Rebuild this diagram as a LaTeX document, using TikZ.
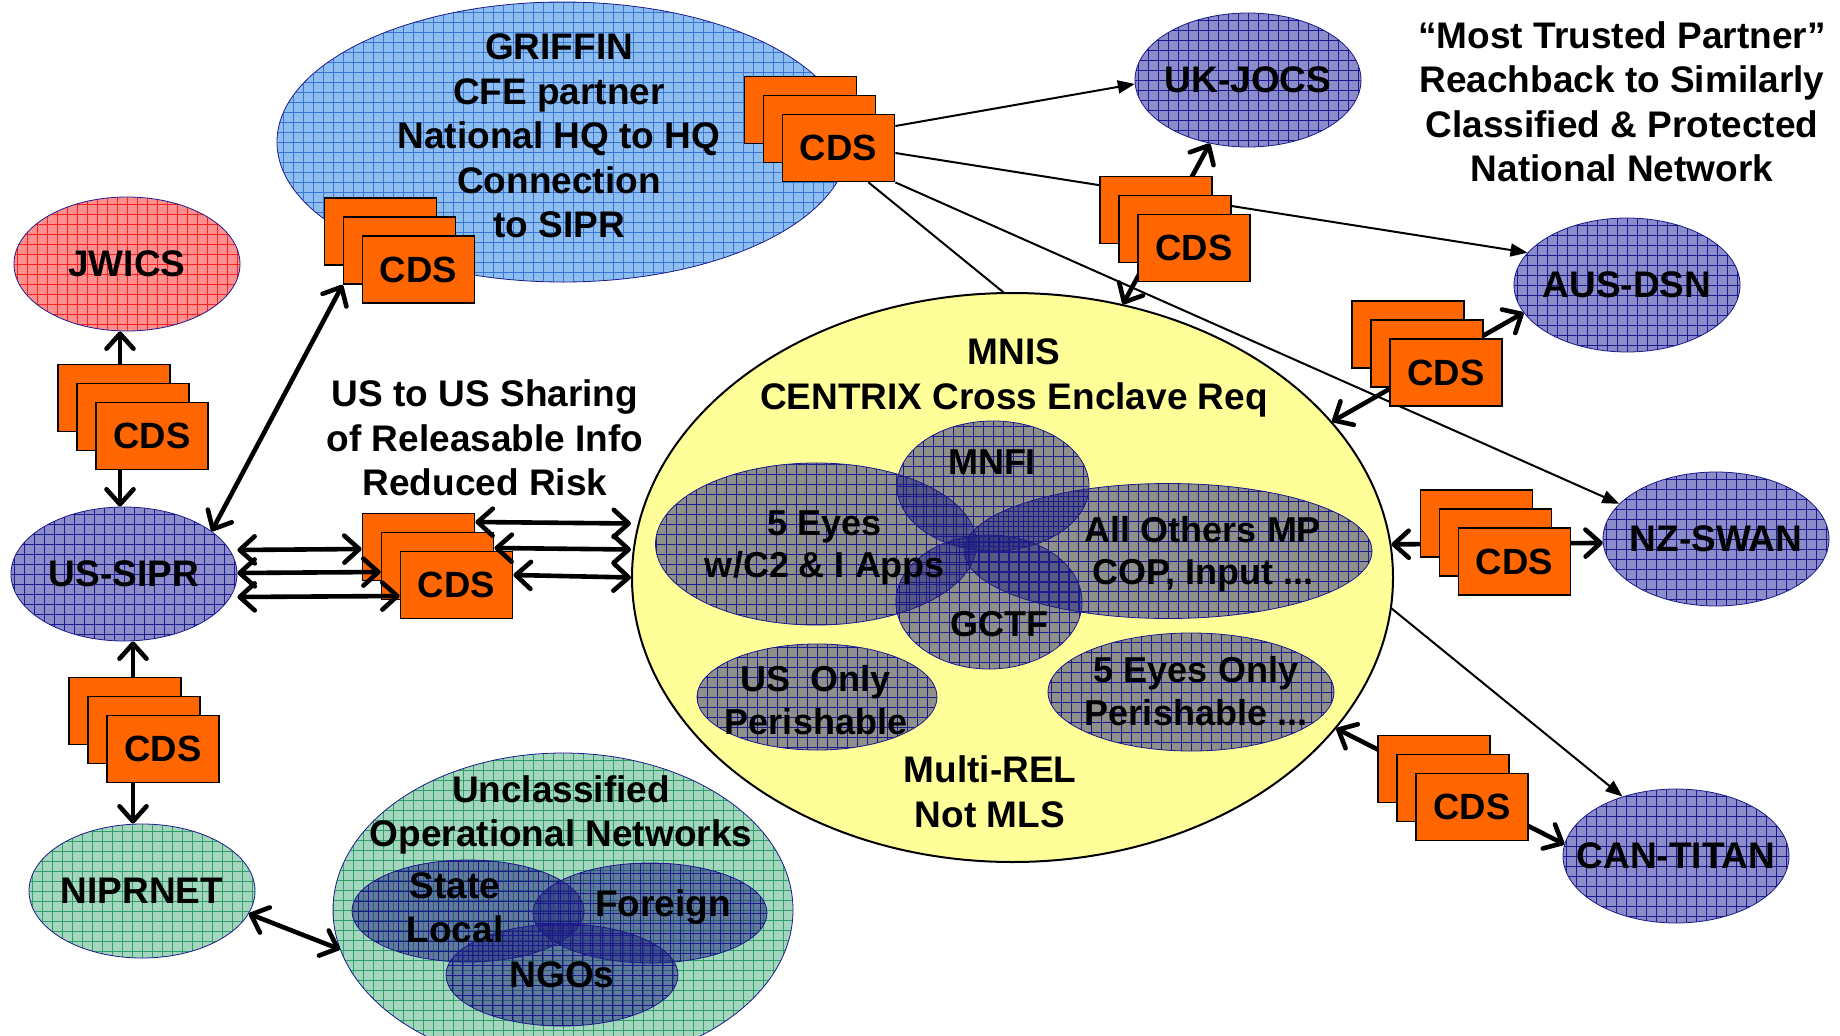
\documentclass[tikz,border=0pt]{standalone}
\usepackage{fontspec}
\setmainfont{Liberation Sans}
\usetikzlibrary{shapes.geometric, shadows, arrows.meta, backgrounds}

\definecolor{cdsorange}{HTML}{FF6600}
\definecolor{netblue}{HTML}{8C8CCA}
\definecolor{netred}{HTML}{FF9090}
\definecolor{netgreen}{HTML}{A4D6BE}
\definecolor{netsky}{HTML}{8EBEF0}
\definecolor{mnisyellow}{HTML}{FFFF99}
\definecolor{navyline}{HTML}{1A1A8C}
\definecolor{redline}{HTML}{FF2020}
\definecolor{greenline}{HTML}{2E9E6A}
\definecolor{skyline}{HTML}{3A74D4}
\definecolor{innerfill}{HTML}{22227E}

\tikzset{
    gridfill/.style={path picture={\draw[#1, line width=0.5pt] (path picture bounding box.south west) grid[step=10pt] (path picture bounding box.north east);}},
    net/.style={ellipse, draw=navyline, line width=0.8pt, inner sep=0pt, minimum width=226pt, minimum height=134pt},
    cell/.style={ellipse, draw=navyline, line width=0.8pt, inner sep=0pt, fill=innerfill, fill opacity=0.5, gridfill=navyline},
    cds/.style={rectangle, draw, line width=1.8pt, fill=cdsorange, inner sep=0pt, minimum width=112pt, minimum height=67pt,
        font=\bfseries\fontsize{36.5}{42}\selectfont,
        copy shadow={shadow xshift=-38pt, shadow yshift=38pt, draw=black, fill=cdsorange, line width=1.8pt},
        copy shadow={shadow xshift=-19pt, shadow yshift=19pt, draw=black, fill=cdsorange, line width=1.8pt}},
    lbl/.style={inner sep=0pt, align=center, font=\bfseries\fontsize{37}{44.5}\selectfont},
    celllbl/.style={inner sep=0pt, align=center, font=\bfseries\fontsize{36}{42.5}\selectfont},
    link/.style={line width=4.6pt, >={Straight Barb[length=15pt, width=27pt, round]}, <->},
    feed/.style={line width=2pt, >={Triangle[length=17pt, width=13pt]}, ->},
}

\begin{document}
\begin{tikzpicture}[x=1pt, y=-1pt]
    \useasboundingbox (0, 0) rectangle (1840, 1036);

    % networks
    \node[net, fill=netsky, gridfill=skyline, minimum width=572pt, minimum height=280pt] (griffin) at(563, 142) {};
    \node[net, fill=netred, gridfill=redline] (jwics) at(127, 264) {};
    \node[net, fill=netblue, gridfill=navyline] (ussipr) at(124, 574) {};
    \node[net, fill=netgreen, gridfill=greenline] (niprnet) at(142, 891) {};
    \node[net, fill=netblue, gridfill=navyline] (ukjocs) at(1248, 80) {};
    \node[net, fill=netblue, gridfill=navyline] (ausdsn) at(1627, 285) {};
    \node[net, fill=netblue, gridfill=navyline] (nzswan) at(1716, 539) {};
    \node[net, fill=netblue, gridfill=navyline] (cantitan) at(1676, 856) {};
    \node[net, fill=netgreen, gridfill=greenline, minimum width=460pt, minimum height=314pt] (unclass) at(563, 910) {};
    \node[ellipse, draw, line width=2pt, fill=mnisyellow, minimum width=761pt, minimum height=569pt] (mnis) at(1012.5, 577.5) {};

    % enclaves
    \node[cell, minimum width=321pt, minimum height=162pt] (fiveeyes) at(816, 544) {};
    \node[cell, minimum width=408pt, minimum height=135pt] (allothers) at(1168, 551) {};
    \node[cell, minimum width=192pt, minimum height=130pt] (mnfi) at(993, 486) {};
    \node[cell, minimum width=186pt, minimum height=134pt] (gctf) at(989, 602) {};
    \node[cell, minimum width=240pt, minimum height=106pt] (usonly) at(817, 697) {};
    \node[cell, minimum width=286pt, minimum height=118pt] (fiveonly) at(1191, 692) {};
    \node[cell, minimum width=232pt, minimum height=102pt] (statelocal) at(468, 911) {};
    \node[cell, minimum width=234pt, minimum height=100pt] (foreign) at(650, 913) {};
    \node[cell, minimum width=232pt, minimum height=102pt] (ngos) at(562, 975) {};

    % cross domain solutions
    \node[cds] (cdsjw) at(152, 436) {CDS};
    \node[cds] (cdsnip) at(163, 749) {CDS};
    \node[cds] (cdsgl) at(418.5, 269.5) {CDS};
    \node[cds] (cdsgr) at(838.5, 148) {CDS};
    \node[cds] (cdsuk) at(1194, 248) {CDS};
    \node[cds] (cdsaus) at(1446, 372.5) {CDS};
    \node[cds] (cdsnz) at(1514.5, 561.5) {CDS};
    \node[cds] (cdscan) at(1472, 807) {CDS};
    \node[cds] (cdsus) at(456.5, 585) {CDS};

    \begin{pgfonlayer}{background}
    \draw[feed] ([yshift=22pt]cdsgr.east) -- (ukjocs.182);
    \draw[feed] ([yshift=-5pt]cdsgr.east) -- (ausdsn.162);
    \draw[feed] (cdsgr.south east) -- (nzswan.160);
    \draw[feed] ([xshift=30pt]cdsgr.south) -- (cantitan.132);
    \draw[link] ([xshift=-7pt]jwics.south) -- ([xshift=-4pt]ussipr.north);
    \draw[link] ([xshift=9pt]ussipr.south) -- ([xshift=-9pt]niprnet.north);
    \draw[link] (mnis.68) -- (ukjocs.239);
    \draw[link] (mnis.26) -- (ausdsn.195);
    \draw[link] (mnis.5) -- (nzswan.182);
    \draw[link] (mnis.-25) -- (cantitan.174);
    \end{pgfonlayer}

    \draw[link] (ussipr.26) -- ([shift={(-19pt,19pt)}]cdsgl.south west);
    \draw[link] ([yshift=24pt]ussipr.east) -- ([shift={(-38pt,36pt)}]cdsus.west);
    \draw[link] ([yshift=1pt]ussipr.east) -- ([shift={(-19pt,13pt)}]cdsus.west);
    \draw[link] ([yshift=-23pt]ussipr.east) -- ([yshift=-11pt]cdsus.west);
    \draw[link] ([shift={(-38pt,63pt)}]cdsus.east) -- ([yshift=54pt]mnis.west);
    \draw[link] ([shift={(-19pt,37pt)}]cdsus.east) -- ([yshift=28pt]mnis.west);
    \draw[link] ([yshift=10pt]cdsus.east) -- (mnis.west);
    \draw[link] (niprnet.-12) -- (unclass.190);

    % labels
    \node[lbl] (jwicstxt) at (jwics) {JWICS};
    \node[lbl] (ussiprtxt) at (ussipr) {US-SIPR};
    \node[lbl] (niprnettxt) at (niprnet) {NIPRNET};
    \node[lbl] (ukjocstxt) at (ukjocs) {UK-JOCS};
    \node[lbl] (ausdsntxt) at (ausdsn) {AUS-DSN};
    \node[lbl] (nzswantxt) at (nzswan) {NZ-SWAN};
    \node[lbl] (cantitantxt) at (cantitan) {CAN-TITAN};
    \node[lbl] (griffintxt) at(559, 136) {GRIFFIN\\CFE partner\\National HQ to HQ\\Connection\\to SIPR};
    \node[lbl] (sharetxt) at(485, 438) {US to US Sharing\\of Releasable Info\\Reduced Risk};
    \node[lbl] (trusttxt) at(1622, 102) {“Most Trusted Partner”\\Reachback to Similarly\\Classified \& Protected\\National Network};
    \node[lbl] (mnistxt) at(1014, 378) {MNIS\\CENTRIX Cross Enclave Req};
    \node[lbl] (reltxt) at(990, 792) {Multi-REL\\Not MLS};
    \node[celllbl] (mnfitxt) at(992, 462) {MNFI};
    \node[celllbl] (gctftxt) at(999, 624) {GCTF};
    \node[celllbl] (fiveeyestxt) at(825, 548) {5 Eyes\\w/C2 \& I Apps};
    \node[celllbl] (allotherstxt) at(1203, 554) {All Others MP\\COP, Input ...};
    \node[celllbl] (usonlytxt) at(816, 700) {US\ \ Only\\Perishable};
    \node[celllbl] (fiveonlytxt) at(1196, 691) {5 Eyes Only\\Perishable ...};
    \node[lbl] (unclasstxt) at(561, 815) {Unclassified\\Operational Networks};
    \node[lbl] (statetxt) at(455, 908) {State\\Local};
    \node[lbl] (foreigntxt) at(663, 907) {Foreign};
    \node[lbl] (ngostxt) at(562, 975) {NGOs};
\end{tikzpicture}
\end{document}
